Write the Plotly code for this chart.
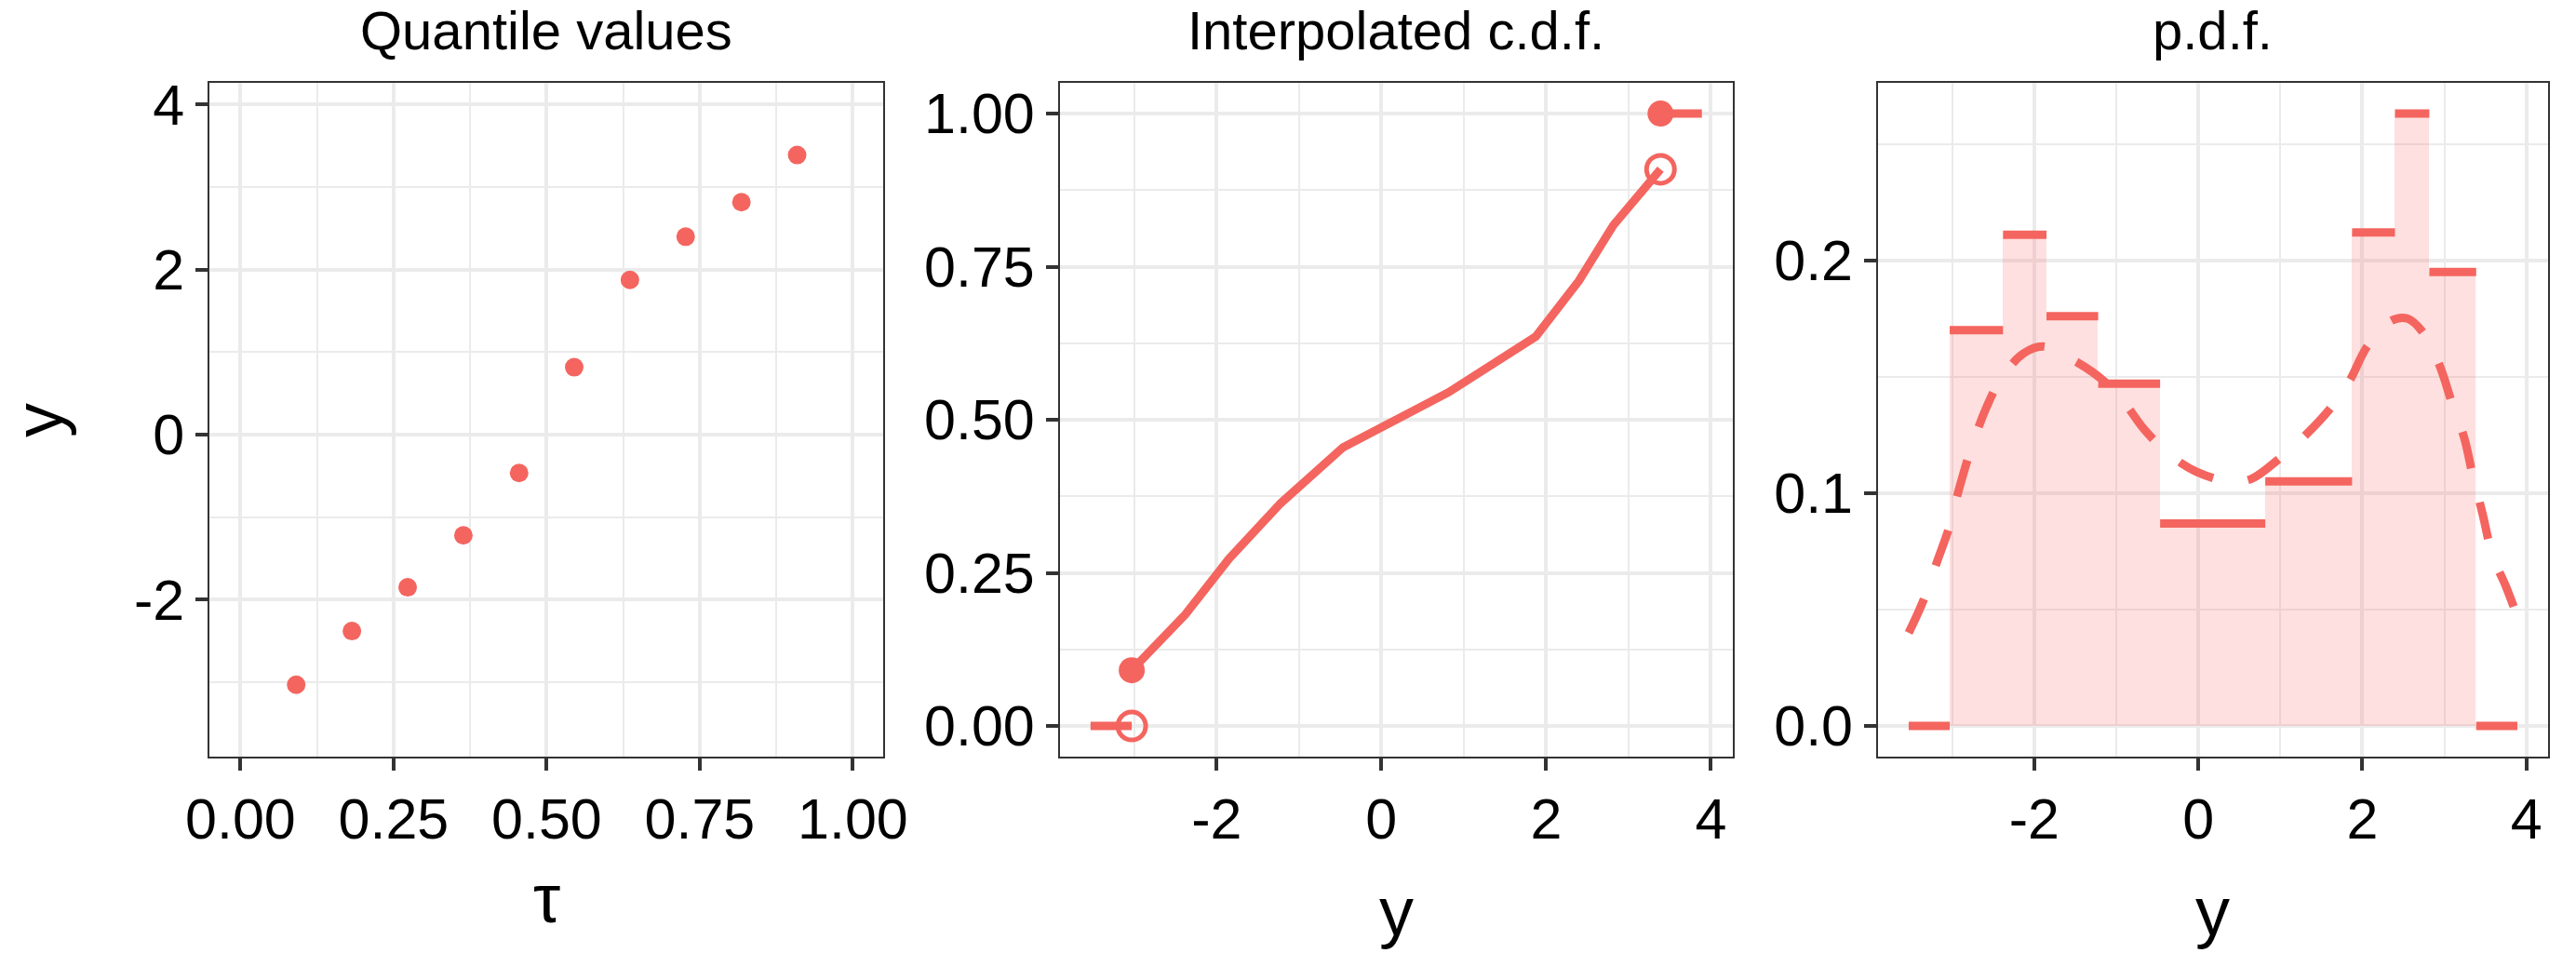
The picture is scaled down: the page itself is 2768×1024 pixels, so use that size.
import plotly.graph_objects as go

# ---------------- data ----------------
tau = [0.091, 0.182, 0.273, 0.364, 0.455, 0.545, 0.636, 0.727, 0.818, 0.909]
quantiles = [-3.03, -2.38, -1.85, -1.22, -0.465, 0.817, 1.875, 2.398, 2.817, 3.388]
support_lo = -3.53
support_hi = 3.89
pdf_heights = [0.170, 0.211, 0.176, 0.147, 0.087, 0.105, 0.212, 0.263, 0.195]
dens_x = [-3.53, -3.35, -3.19, -3.03, -2.93, -2.77, -2.58, -2.39, -2.13, -1.90,
          -1.68, -1.29, -0.97, -0.65, -0.33, -0.01, 0.38, 0.64, 0.96, 1.28,
          1.60, 1.84, 2.06, 2.35, 2.55, 2.74, 2.94, 3.09, 3.24, 3.35,
          3.46, 3.59, 3.75, 3.89]
dens_y = [0.040, 0.054, 0.070, 0.086, 0.100, 0.119, 0.137, 0.150, 0.160, 0.163,
          0.160, 0.152, 0.142, 0.127, 0.116, 0.109, 0.105, 0.106, 0.114, 0.124,
          0.136, 0.148, 0.163, 0.174, 0.175, 0.169, 0.155, 0.139, 0.124, 0.107,
          0.092, 0.073, 0.060, 0.047]

titles = ["Quantile values", "Interpolated c.d.f.", "p.d.f."]
x_titles = ["τ", "y", "y"]
y_title = "y"
tau_ticks = [0, 0.25, 0.5, 0.75, 1]
tau_ticktext = ["0.00", "0.25", "0.50", "0.75", "1.00"]
tau_minor = [0.125, 0.375, 0.625, 0.875]
y_ticks = [-2, 0, 2, 4]
y_ticktext = ["-2", "0", "2", "4"]
y_minor = [-3, -1, 1, 3]
cdf_ticks = [0, 0.25, 0.5, 0.75, 1]
cdf_ticktext = ["0.00", "0.25", "0.50", "0.75", "1.00"]
cdf_minor = [0.125, 0.375, 0.625, 0.875]
pdf_ticks = [0, 0.1, 0.2]
pdf_ticktext = ["0.0", "0.1", "0.2"]
pdf_minor = [0.05, 0.15, 0.25]

# ---------------- style ----------------
W, H = 2768, 1024
RED = "#F4655F"
FILL = "rgba(244,101,95,0.2)"
GRID = "#EBEBEB"
BORDER = "#333333"
FONT = "Liberation Sans, Arial, Helvetica, sans-serif"
TICK_SIZE = 61
TITLE_SIZE = 58
AXTITLE_SIZE = 74

panels_px = [(203.3, 941.0), (1134.3, 1870.7), (2030.4, 2763.6)]
xtitle_center_px = [966, 980, 980]
top_px, bot_px = 80.0, 811.7
ydom = [1 - bot_px / H, 1 - top_px / H]


def pad(lo, hi, f=0.05):
    s = hi - lo
    return [lo - f * s, hi + f * s]


fig = go.Figure()

# Panel 1: quantile values
fig.add_trace(go.Scatter(x=tau, y=quantiles, mode="markers",
                         marker=dict(color=RED, size=20, line=dict(width=0)),
                         xaxis="x", yaxis="y", showlegend=False))

# Panel 2: interpolated cdf
fig.add_trace(go.Scatter(x=[support_lo, quantiles[0]], y=[0, 0], mode="lines",
                         line=dict(color=RED, width=9),
                         xaxis="x2", yaxis="y2", showlegend=False))
fig.add_trace(go.Scatter(x=quantiles, y=tau, mode="lines",
                         line=dict(color=RED, width=9),
                         xaxis="x2", yaxis="y2", showlegend=False))
fig.add_trace(go.Scatter(x=[quantiles[-1], support_hi], y=[1, 1], mode="lines",
                         line=dict(color=RED, width=9),
                         xaxis="x2", yaxis="y2", showlegend=False))
fig.add_trace(go.Scatter(x=[quantiles[0], quantiles[-1]], y=[0, tau[-1]], mode="markers",
                         marker=dict(symbol="circle-open", color=RED, size=30,
                                     line=dict(color=RED, width=5)),
                         xaxis="x2", yaxis="y2", showlegend=False))
fig.add_trace(go.Scatter(x=[quantiles[0], quantiles[-1]], y=[tau[0], 1], mode="markers",
                         marker=dict(color=RED, size=28, line=dict(width=0)),
                         xaxis="x2", yaxis="y2", showlegend=False))

# Panel 3: pdf
mids = [(a + b) / 2 for a, b in zip(quantiles[:-1], quantiles[1:])]
widths = [b - a for a, b in zip(quantiles[:-1], quantiles[1:])]
fig.add_trace(go.Bar(x=mids, y=pdf_heights, width=widths,
                     marker=dict(color=FILL, line=dict(width=0)),
                     xaxis="x3", yaxis="y3", showlegend=False))
step_x, step_y = [support_lo, quantiles[0], None], [0, 0, None]
for a, b, h in zip(quantiles[:-1], quantiles[1:], pdf_heights):
    step_x += [a, b, None]
    step_y += [h, h, None]
step_x += [quantiles[-1], support_hi]
step_y += [0, 0]
fig.add_trace(go.Scatter(x=step_x, y=step_y, mode="lines",
                         line=dict(color=RED, width=9),
                         connectgaps=False,
                         xaxis="x3", yaxis="y3", showlegend=False))
fig.add_trace(go.Scatter(x=dens_x, y=dens_y, mode="lines",
                         line=dict(color=RED, width=9, dash="40px,38px", shape="spline"),
                         xaxis="x3", yaxis="y3", showlegend=False))

common = dict(showline=True, mirror=True, linecolor=BORDER, linewidth=2,
              ticks="outside", ticklen=13, tickwidth=4, tickcolor=BORDER,
              showgrid=True, gridcolor=GRID, gridwidth=4, zeroline=False,
              tickfont=dict(family=FONT, size=TICK_SIZE, color="black"),
              tickmode="array", fixedrange=True)


def minor(vals):
    return dict(tickvals=vals, showgrid=True, gridcolor=GRID, gridwidth=2, ticks="")


yr = pad(support_lo, support_hi)
layout = dict(
    width=W, height=H, margin=dict(l=0, r=0, t=0, b=0),
    paper_bgcolor="white", plot_bgcolor="white", barmode="overlay",
    bargap=0, showlegend=False, hovermode=False,
    xaxis=dict(domain=[panels_px[0][0] / W, panels_px[0][1] / W], anchor="y",
               range=pad(0, 1), tickvals=tau_ticks, ticktext=tau_ticktext,
               minor=minor(tau_minor), **common),
    yaxis=dict(domain=ydom, anchor="x", range=yr, tickvals=y_ticks, ticktext=y_ticktext,
               minor=minor(y_minor), **common),
    xaxis2=dict(domain=[panels_px[1][0] / W, panels_px[1][1] / W], anchor="y2",
                range=yr, tickvals=y_ticks, ticktext=y_ticktext,
                minor=minor(y_minor), **common),
    yaxis2=dict(domain=ydom, anchor="x2", range=pad(0, 1), tickvals=cdf_ticks,
                ticktext=cdf_ticktext, minor=minor(cdf_minor), **common),
    xaxis3=dict(domain=[panels_px[2][0] / W, panels_px[2][1] / W], anchor="y3",
                range=yr, tickvals=y_ticks, ticktext=y_ticktext,
                minor=minor(y_minor), **common),
    yaxis3=dict(domain=ydom, anchor="x3", range=pad(0, max(pdf_heights)),
                tickvals=pdf_ticks, ticktext=pdf_ticktext,
                minor=minor(pdf_minor), **common),
)
fig.update_layout(**layout)

annotations = []
for (l, r), t, xt, yc in zip(panels_px, titles, x_titles, xtitle_center_px):
    cx = (l + r) / 2 / W
    annotations.append(dict(text=t, x=cx, y=1 - 22.7 / H, xref="paper", yref="paper",
                            xanchor="center", yanchor="middle", showarrow=False,
                            font=dict(family=FONT, size=TITLE_SIZE, color="black")))
    annotations.append(dict(text=xt, x=cx, y=1 - yc / H, xref="paper", yref="paper",
                            xanchor="center", yanchor="middle", showarrow=False,
                            font=dict(family=FONT, size=AXTITLE_SIZE, color="black")))
annotations.append(dict(text=y_title, x=16 / W, y=1 - 446 / H, xref="paper", yref="paper",
                        xanchor="center", yanchor="middle", showarrow=False, textangle=-90,
                        font=dict(family=FONT, size=AXTITLE_SIZE, color="black")))
fig.update_layout(annotations=annotations)

fig.write_html("out.html", config={"displayModeBar": False})
